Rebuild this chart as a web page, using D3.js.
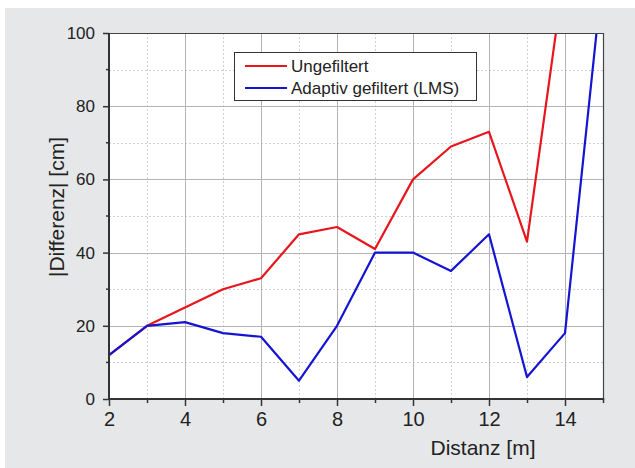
<!DOCTYPE html>
<html>
<head>
<meta charset="utf-8">
<script src="https://cdn.jsdelivr.net/npm/d3@7"></script>
<style>
  html, body { margin: 0; padding: 0; background: #ffffff; }
  svg { display: block; }
  text { font-family: "Liberation Sans", Arial, sans-serif; fill: #222; }
</style>
</head>
<body>
<div id="chart"></div>
<script>
// distance in m
var distanz = [2, 3, 4, 5, 6, 7, 8, 9, 10, 11, 12, 13, 14, 15];
// |difference| in cm
var ungefiltert = [12, 20, 25, 30, 33, 45, 47, 41, 60, 69, 73, 43, 118, null];
var adaptiv     = [12, 20, 21, 18, 17, 5, 20, 40, 40, 35, 45, 6, 18, 117];

var xMajor = [2, 4, 6, 8, 10, 12, 14];
var xMinor = [3, 5, 7, 9, 11, 13, 15];
var yMajor = [0, 20, 40, 60, 80, 100];
var yMinor = [10, 30, 50, 70, 90];

var series = [
  {name: "Ungefiltert", color: "#e8161c", values: ungefiltert},
  {name: "Adaptiv gefiltert (LMS)", color: "#1414d2", values: adaptiv}
];

var width = 635, height = 468;
var plot = {left: 109, right: 603, top: 33, bottom: 399};

var svg = d3.select("#chart").append("svg")
    .attr("width", width)
    .attr("height", height);

// grey panel
svg.append("rect")
  .attr("x", 5).attr("y", 8)
  .attr("width", width - 5).attr("height", height - 8)
  .style("fill", "#e6e7e8");

var xScale = d3.scaleLinear().domain([2, 15]).range([plot.left, plot.right]);
var yScale = d3.scaleLinear().domain([0, 100]).range([plot.bottom, plot.top]);

svg.append("rect")
  .attr("x", plot.left).attr("y", plot.top)
  .attr("width", plot.right - plot.left).attr("height", plot.bottom - plot.top)
  .style("fill", "#ffffff");

// grid
var grid = svg.append("g");
grid.selectAll(".xminor").data(xMinor.filter(function(d) { return d < 15; }))
  .enter().append("line")
  .attr("x1", function(d) { return xScale(d) + 0.5; }).attr("x2", function(d) { return xScale(d) + 0.5; })
  .attr("y1", plot.top).attr("y2", plot.bottom)
  .style("stroke", "#cfcfcf").style("stroke-dasharray", "2,2");
grid.selectAll(".yminor").data(yMinor)
  .enter().append("line")
  .attr("y1", function(d) { return Math.round(yScale(d)) + 0.5; }).attr("y2", function(d) { return Math.round(yScale(d)) + 0.5; })
  .attr("x1", plot.left).attr("x2", plot.right)
  .style("stroke", "#cfcfcf").style("stroke-dasharray", "2,2");
grid.selectAll(".xmajor").data(xMajor.slice(1))
  .enter().append("line")
  .attr("x1", function(d) { return xScale(d) + 0.5; }).attr("x2", function(d) { return xScale(d) + 0.5; })
  .attr("y1", plot.top).attr("y2", plot.bottom)
  .style("stroke", "#b4b4b4");
grid.selectAll(".ymajor").data(yMajor.slice(1, -1))
  .enter().append("line")
  .attr("y1", function(d) { return Math.round(yScale(d)) + 0.5; }).attr("y2", function(d) { return Math.round(yScale(d)) + 0.5; })
  .attr("x1", plot.left).attr("x2", plot.right)
  .style("stroke", "#b4b4b4");

// data lines, clipped to the plot
svg.append("clipPath").attr("id", "clip")
  .append("rect")
  .attr("x", plot.left).attr("y", plot.top)
  .attr("width", plot.right - plot.left).attr("height", plot.bottom - plot.top);

var line = d3.line()
  .defined(function(d) { return d[1] !== null; })
  .x(function(d) { return xScale(d[0]); })
  .y(function(d) { return yScale(d[1]); });

svg.append("g").attr("clip-path", "url(#clip)")
  .selectAll(".serie")
  .data(series)
  .enter().append("path")
  .attr("d", function(s) { return line(distanz.map(function(d, i) { return [d, s.values[i]]; })); })
  .style("fill", "none")
  .style("stroke", function(s) { return s.color; })
  .style("stroke-width", 2.2)
  .style("stroke-linejoin", "round");

// frame
svg.append("line")
  .attr("x1", plot.left).attr("x2", plot.right + 0.5)
  .attr("y1", plot.top + 0.5).attr("y2", plot.top + 0.5)
  .style("stroke", "#444").style("stroke-width", 1.2);
svg.append("line")
  .attr("x1", plot.right + 0.5).attr("x2", plot.right + 0.5)
  .attr("y1", plot.top).attr("y2", plot.bottom)
  .style("stroke", "#444").style("stroke-width", 1.2);

// x axis
var xAxis = svg.append("g").attr("transform", "translate(0," + plot.bottom + ")");
xAxis.call(d3.axisBottom(xScale).tickValues(xMajor).tickSize(7).tickPadding(6).tickFormat(d3.format("d")));
xAxis.append("g").selectAll("line").data(xMinor)
  .enter().append("line")
  .attr("x1", function(d) { return xScale(d) + 0.5; }).attr("x2", function(d) { return xScale(d) + 0.5; })
  .attr("y1", 0).attr("y2", 4)
  .style("stroke", "#333").style("stroke-width", 1.5);
xAxis.select(".domain").remove();
xAxis.append("line").attr("x1", plot.left - 1).attr("x2", plot.right + 1.2)
  .style("stroke", "#333").style("stroke-width", 2);
xAxis.selectAll(".tick line").style("stroke", "#333").style("stroke-width", 1.5);
xAxis.selectAll(".tick text")
  .style("font-size", "20px")
  .style("fill", "#222")
  .style("font-family", "'Liberation Sans', Arial, sans-serif");

// y axis
var yAxis = svg.append("g").attr("transform", "translate(" + plot.left + ",0)");
yAxis.call(d3.axisLeft(yScale).tickValues(yMajor).tickSize(6).tickPadding(8).tickFormat(d3.format("d")));
yAxis.append("g").selectAll("line").data(yMinor)
  .enter().append("line")
  .attr("y1", function(d) { return yScale(d); }).attr("y2", function(d) { return yScale(d); })
  .attr("x1", 0).attr("x2", -3)
  .style("stroke", "#333").style("stroke-width", 1.5);
yAxis.select(".domain").remove();
yAxis.append("line").attr("y1", plot.top).attr("y2", plot.bottom + 1)
  .style("stroke", "#333").style("stroke-width", 2);
yAxis.selectAll(".tick line").style("stroke", "#333").style("stroke-width", 1.5);
yAxis.selectAll(".tick text")
  .style("font-size", "17px")
  .style("fill", "#222")
  .style("font-family", "'Liberation Sans', Arial, sans-serif");

// axis titles
svg.append("text")
  .attr("text-anchor", "middle")
  .attr("x", 483).attr("y", 455)
  .style("font-size", "21px")
  .text("Distanz [m]");

svg.append("text")
  .attr("text-anchor", "middle")
  .attr("transform", "translate(64,207) rotate(-90)")
  .style("font-size", "21px")
  .text("|Differenz| [cm]");

// legend
var legend = svg.append("g").attr("transform", "translate(234,52)");
legend.append("rect")
  .attr("x", 0.5).attr("y", 0.5)
  .attr("width", 242).attr("height", 48)
  .style("fill", "#ffffff")
  .style("stroke", "#333")
  .style("stroke-width", 1);

var items = legend.selectAll(".item").data(series)
  .enter().append("g")
  .attr("transform", function(d, i) { return "translate(0," + (14 + i * 22) + ")"; });
items.append("line")
  .attr("x1", 11).attr("x2", 53)
  .style("stroke", function(d) { return d.color; })
  .style("stroke-width", 2.2);
items.append("text")
  .attr("x", 57).attr("y", 6)
  .style("font-size", "17px")
  .text(function(d) { return d.name; });
</script>
</body>
</html>
